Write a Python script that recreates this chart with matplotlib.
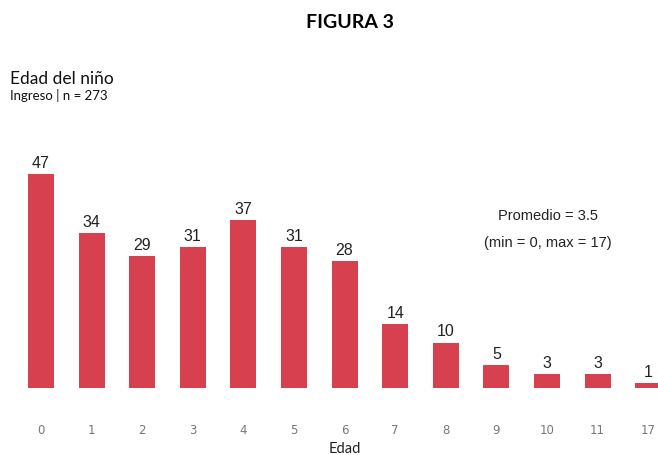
import matplotlib.pyplot as plt

edades = ['0', '1', '2', '3', '4', '5', '6', '7', '8', '9', '10', '11', '17']
conteos = [47, 34, 29, 31, 37, 31, 28, 14, 10, 5, 3, 3, 1]

W, H = 658, 456
fig = plt.figure(figsize=(W / 100, H / 100), dpi=100)
fig.patch.set_facecolor('white')

# axes placed in pixel terms: bar base at y=389px, 4.55 px per unit
base = H - 389
ax = fig.add_axes([0, base / H, 1, 50 * 4.55 / H])
x = list(range(len(edades)))
ax.bar(x, conteos, width=0.51, color='#D7414F')
ax.set_xlim(-41 / 50.6, (W - 41) / 50.6)
ax.set_ylim(0, 50)
for s in ax.spines.values():
    s.set_visible(False)
ax.set_yticks([])
ax.set_xticks(x)
ax.set_xticklabels(edades, fontsize=8.5, color='#777777', family='Liberation Sans Narrow')
ax.tick_params(axis='x', length=0, pad=25)

for xi, v in zip(x, conteos):
    ax.text(xi, v + 0.9, str(v), ha='center', va='bottom', fontsize=11.5,
            color='#222222', family='Liberation Sans')

fig.text(345 / W, 1 - 449 / H, 'Edad', ha='center', va='center',
         fontsize=10.5, family='Lato', color='#222222')
fig.text(350 / W, 1 - 22 / H, 'FIGURA 3', ha='center', va='center',
         fontsize=14, fontweight='bold', family='Lato')
fig.text(10 / W, 1 - 79 / H, 'Edad del niño', ha='left', va='center',
         fontsize=12.5, family='Lato', color='#111111')
fig.text(10 / W, 1 - 96 / H, 'Ingreso | n = 273', ha='left', va='center',
         fontsize=9.5, family='Lato', color='#111111')
fig.text(548 / W, 1 - 216 / H, 'Promedio = 3.5', ha='center', va='center',
         fontsize=10.5, family='Liberation Sans', color='#222222')
fig.text(548 / W, 1 - 243 / H, '(min = 0, max = 17)', ha='center', va='center',
         fontsize=10.5, family='Liberation Sans', color='#222222')

fig.savefig('out.png', dpi=100)
